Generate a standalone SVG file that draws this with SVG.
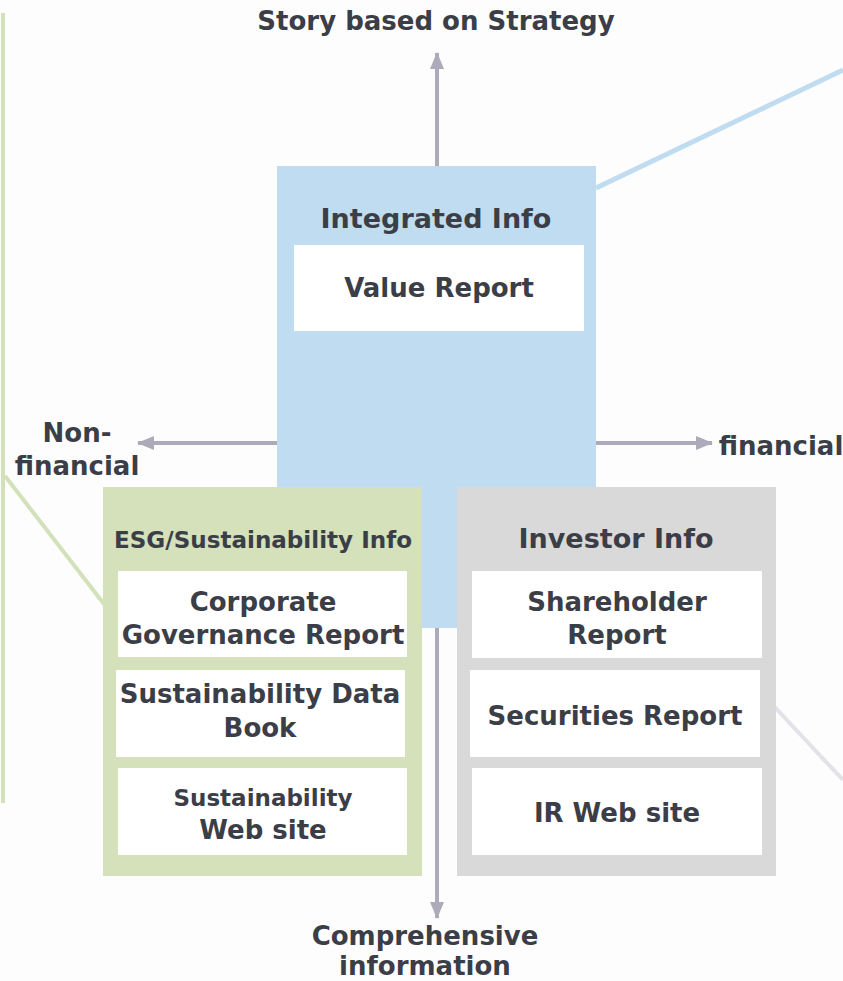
<svg xmlns="http://www.w3.org/2000/svg" width="843" height="981" viewBox="0 0 843 981">
<style>
text{font-family:"DejaVu Sans","Liberation Sans",sans-serif;font-weight:bold;fill:#3b3e47;text-anchor:middle}
.t27{font-size:27px}
.t26{font-size:26px}
.t23{font-size:23px}
.card{fill:#ffffff}
.arrow{stroke:#adabb9;stroke-width:4;fill:none;marker-end:url(#ah)}
</style>
<defs>
<marker id="ah" markerUnits="userSpaceOnUse" markerWidth="18" markerHeight="14" refX="16" refY="7" orient="auto">
<path d="M0,0 L17,7 L0,14 Z" fill="#adabb9"/>
</marker>
</defs>
<rect x="0" y="0" width="843" height="981" fill="#fdfdfd"/>
<g id="decor-lines">
<line x1="3" y1="13" x2="3" y2="803" stroke="#d3e1bb" stroke-width="4"/>
<line x1="5" y1="476" x2="104" y2="604" stroke="#d3e1bb" stroke-width="4"/>
<line x1="596" y1="188" x2="843" y2="70" stroke="#bfdcf0" stroke-width="5"/>
<line x1="770" y1="702" x2="843" y2="780" stroke="#e2e2e8" stroke-width="4"/>
</g>
<g id="integrated">
<rect x="277" y="166" width="319" height="462" fill="#bfdcf0"/>
<text class="t27" x="436" y="228">Integrated Info</text>
<rect class="card" x="294" y="245" width="290" height="86"/>
<text class="t26" x="439" y="297">Value Report</text>
</g>
<g id="esg">
<rect x="103" y="487" width="319" height="389" fill="#d4e1bb"/>
<text class="t23" x="263" y="548" textLength="298" lengthAdjust="spacingAndGlyphs">ESG/Sustainability Info</text>
<rect class="card" x="118" y="571" width="289" height="86"/>
<text class="t26" x="263" y="611">Corporate</text>
<text class="t26" x="263" y="644">Governance Report</text>
<rect class="card" x="116" y="670" width="289" height="87"/>
<text class="t26" x="260" y="703">Sustainability Data</text>
<text class="t26" x="260" y="737">Book</text>
<rect class="card" x="118" y="768" width="289" height="87"/>
<text class="t23" x="263" y="806">Sustainability</text>
<text class="t26" x="263" y="839">Web site</text>
</g>
<g id="investor">
<rect x="457" y="487" width="319" height="389" fill="#d9d9d9"/>
<text class="t27" x="616" y="548">Investor Info</text>
<rect class="card" x="472" y="571" width="290" height="87"/>
<text class="t26" x="617" y="611">Shareholder</text>
<text class="t26" x="617" y="644">Report</text>
<rect class="card" x="470" y="670" width="290" height="87"/>
<text class="t26" x="615" y="725">Securities Report</text>
<rect class="card" x="472" y="768" width="290" height="87"/>
<text class="t26" x="617" y="822">IR Web site</text>
</g>
<g id="connectors">
<line class="arrow" x1="437" y1="166" x2="437" y2="53"/>
<line class="arrow" x1="437" y1="628" x2="437" y2="918"/>
<line class="arrow" x1="277" y1="443" x2="138" y2="443"/>
<line class="arrow" x1="596" y1="443" x2="712" y2="443"/>
</g>
<g id="labels">
<text class="t26" x="436" y="30">Story based on Strategy</text>
<text class="t26" x="77" y="442">Non-</text>
<text class="t26" x="77" y="475">financial</text>
<text class="t26" x="781" y="455">financial</text>
<text class="t26" x="425" y="945">Comprehensive</text>
<text class="t26" x="425" y="975">information</text>
</g>
</svg>
